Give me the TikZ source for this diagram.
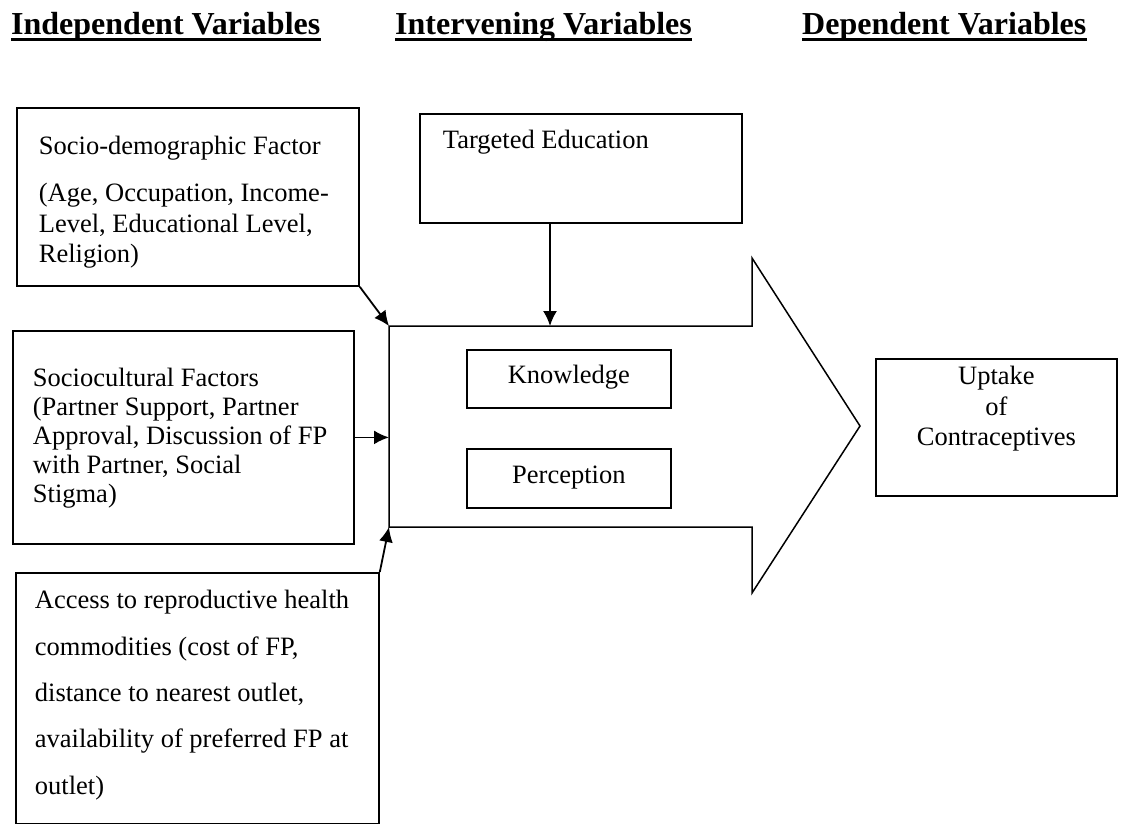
\documentclass[tikz,border=0pt]{standalone}
\usepackage{fontspec}
\setmainfont{Liberation Serif}
\usetikzlibrary{arrows.meta}
\newcommand{\bodyfont}{\fontsize{26.5}{30.5}\selectfont}
\newcommand{\headfont}{\fontsize{32}{38}\selectfont\bfseries}
\tikzstyle{factor_box}=[rectangle,
                        draw=black,
                        line width=1.8pt,
                        anchor=north west,
                        align=flush left,
                        inner ysep=0pt,
                        font=\bodyfont]
\tikzstyle{head_label}=[anchor=base west, inner sep=0pt, font=\headfont]
\tikzstyle{head_rule}=[line width=3pt]
\tikzstyle{link}=[line width=1.8pt, -{Latex[length=15pt,width=14pt]}]

\begin{document}
\begin{tikzpicture}[x=1pt, y=-1pt]
  \useasboundingbox (0,0) rectangle (1121,823);

  % column headings
  \node at (11,34) (H1) [head_label] {Independent Variables};
  \node at (395,34) (H2) [head_label] {Intervening Variables};
  \node at (802,34) (H3) [head_label] {Dependent Variables};
  \foreach \h in {H1,H2,H3} {
    \draw[head_rule] ([yshift=-5pt]\h.base west) -- ([yshift=-5pt]\h.base east);
  }

  % big arrow
  \coordinate (TL) at (389,326);
  \coordinate (BL) at (389,527);
  \coordinate (E) at (550,326);
  \draw[line width=1.5pt, line join=miter] (TL) -- (752,326) -- (752,258) -- (860,426)
    -- (752,593) -- (752,527) -- (BL) -- cycle;

  % boxes
  \node at (16,107) (socio) [factor_box, inner xsep=22pt, text width=298pt,
    text height=47pt, text depth=131pt]
    {Socio-demographic Factor\\[16.5pt](Age, Occupation, Income-\\Level, Educational Level,\\Religion)};
  \node at (12,330) (cult) [factor_box, inner xsep=20pt, text width=301pt,
    text height=56pt, text depth=157pt, font=\fontsize{26.5}{29}\selectfont]
    {Sociocultural Factors\\(Partner Support, Partner\\Approval, Discussion of FP\\with Partner, Social\\Stigma)};
  \node at (15,572) (access) [factor_box, inner xsep=19pt, text width=325pt,
    text height=36pt, text depth=214.5pt, font=\fontsize{26.5}{46.3}\selectfont]
    {Access to reproductive health\\commodities (cost of FP,\\distance to nearest outlet,\\availability of preferred FP at\\outlet)};
  \node at (419,113) (edu) [factor_box, inner xsep=23pt, text width=276pt,
    text height=35pt, text depth=74pt] {Targeted Education};
  \node at (466,349) (know) [factor_box, align=flush center, inner xsep=0pt, text width=204pt,
    text height=34pt, text depth=24pt] {Knowledge};
  \node at (466,448) (perc) [factor_box, align=flush center, inner xsep=0pt, text width=204pt,
    text height=35pt, text depth=24pt] {Perception};
  \node at (875,358) (uptake) [factor_box, align=flush center, inner xsep=0pt, text width=241pt,
    text height=26pt, text depth=111pt] {Uptake\\of\\Contraceptives};

  % links
  \draw[link] (socio.south east) -- (TL);
  \draw[link] (cult.east) -- (cult.east -| TL);
  \draw[link] (access.north east) -- (BL);
  \draw[link] (edu.south -| E) -- (E);
\end{tikzpicture}
\end{document}
